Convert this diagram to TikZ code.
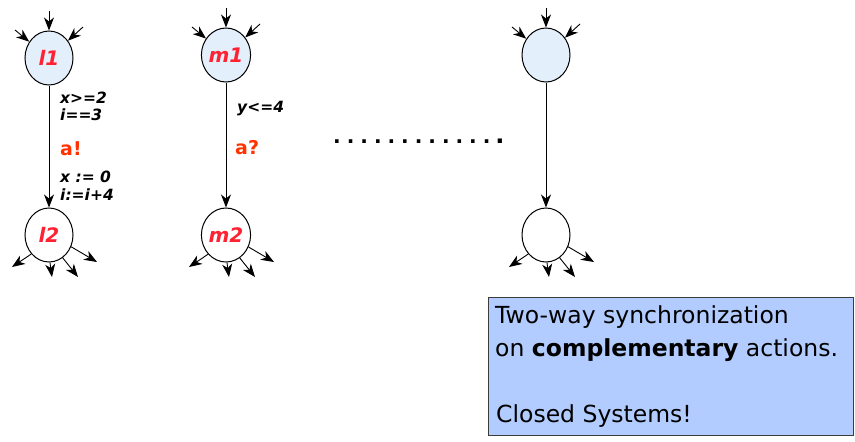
\documentclass[tikz,border=0pt]{standalone}
\usepackage{fontspec}
\setmainfont{DejaVu Sans}
\usetikzlibrary{shapes.geometric,arrows.meta,calc}
\definecolor{locfill}{RGB}{228,239,252}
\definecolor{locred}{RGB}{255,34,51}
\definecolor{actred}{RGB}{255,51,0}
\definecolor{boxfill}{RGB}{178,204,255}
\definecolor{boxline}{RGB}{60,60,60}
\tikzset{
  loc/.style={ellipse, draw=black, line width=1pt, minimum width=48pt, minimum height=54pt, inner sep=0pt,
    font=\fontsize{20}{20}\selectfont\bfseries\itshape, text=locred},
  loctop/.style={loc, fill=locfill},
  locbot/.style={loc, fill=white},
  arr/.style={-{Stealth[length=13pt,width=10pt,inset=4pt]}, line width=0.9pt},
  guard/.style={anchor=base west, inner sep=0pt, font=\fontsize{15.5}{15.5}\selectfont\bfseries\itshape},
  act/.style={anchor=base west, inner sep=0pt, font=\fontsize{19}{19}\selectfont\bfseries, text=actred},
  boxtxt/.style={anchor=base west, inner sep=0pt, font=\fontsize{23.5}{23.5}\selectfont},
  notebox/.style={draw=boxline, line width=0.8pt, fill=boxfill, anchor=north west, minimum width=365pt, minimum height=138pt, inner sep=0pt}
}
\begin{document}
\begin{tikzpicture}[x=1pt,y=-1pt]
\useasboundingbox (0,0) rectangle (855,442);
% locations
\node[loctop] (l1) at (49,58) {l1};
\node[locbot] (l2) at (49,235) {l2};
\node[loctop] (m1) at (226,55) {m1};
\node[locbot] (m2) at (226,235) {m2};
\node[loctop] (n1) at (546,55) {};
\node[locbot] (n2) at (546,235) {};
% incoming and outgoing stubs
\foreach \t in {l1,m1,n1}{
  \coordinate (\t-a) at ($(\t)+(0,-47)$);
  \coordinate (\t-b) at ($(\t)+(-34,-28)$);
  \coordinate (\t-c) at ($(\t)+(34,-31)$);
  \draw[arr] (\t-a) -- (\t);
  \draw[arr] (\t-b) -- (\t);
  \draw[arr] (\t-c) -- (\t);
}
\foreach \b in {l2,m2,n2}{
  \coordinate (\b-a) at ($(\b)+(-37,32)$);
  \coordinate (\b-b) at ($(\b)+(3,42)$);
  \coordinate (\b-c) at ($(\b)+(29,42)$);
  \coordinate (\b-d) at ($(\b)+(48,27)$);
  \draw[arr] (\b.-133) -- (\b-a);
  \draw[arr] (\b.-88) -- (\b-b);
  \draw[arr] (\b.-59) -- (\b-c);
  \draw[arr] (\b.-28) -- (\b-d);
}
% edges
\draw[arr] (l1) -- (l2);
\draw[arr] (m1) -- (m2);
\draw[arr] (n1) -- (n2);
% labels
\node[guard] (g1) at (60,103) {x>=2};
\node[guard] (g2) at (60,120) {i==3};
\node[act] (s1) at (60,155) {a!};
\node[guard] (u1) at (60,182) {x := 0};
\node[guard] (u2) at (60,200) {i:=i+4};
\node[guard] (g3) at (237,112) {y<=4};
\node[act] (s2) at (235,154) {a?};
% dots
\node[anchor=base west, inner sep=0pt, font=\fontsize{20}{20}\selectfont\bfseries] (dots) at (333,143)
  {.\kern6pt.\kern6pt.\kern6pt.\kern6pt.\kern6pt.\kern6pt.\kern6pt.\kern6pt.\kern6pt.\kern6pt.\kern6pt.\kern5pt{\fontsize{24}{24}\selectfont.}};
% note box
\node[notebox] (box) at (488,297) {};
\node[boxtxt] (t1) at (495,323) {Two-way synchronization};
\node[boxtxt] (t2) at (495,356) {on \textbf{complementary} actions.};
\node[boxtxt] (t3) at (496,422) {Closed Systems!};
\end{tikzpicture}
\end{document}
